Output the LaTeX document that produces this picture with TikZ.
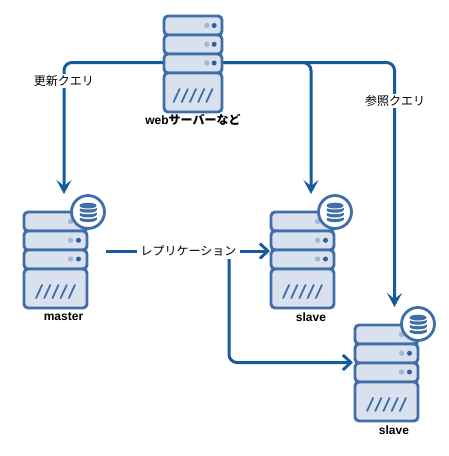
\documentclass[tikz,border=0pt]{standalone}
\usepackage{fontspec}
\setmainfont{Liberation Sans}
\newfontfamily\cjk{Noto Sans CJK JP}
\usetikzlibrary{arrows.meta,positioning}
\definecolor{srvline}{HTML}{3F6EA8}
\definecolor{srvfill}{HTML}{D9E1EF}
\definecolor{srvdotA}{HTML}{A3B7D3}
\definecolor{srvdotB}{HTML}{2F5F9E}
\definecolor{connc}{HTML}{155C9F}
\tikzset{
  x=1pt,y=-1pt,
  unit/.style={draw=srvline,fill=srvfill,line width=2.9pt,rounded corners=4pt},
  dotA/.style={fill=srvdotA},
  dotB/.style={fill=srvdotB},
  connline/.style={draw=connc,line width=3pt,rounded corners=8pt},
  downarrow/.style={-{Stealth[length=14pt,width=15pt,inset=6pt]}},
  sidearrow/.style={-{Straight Barb[length=8pt,width=15pt,line width=2.9pt]}},
  lab/.style={font=\cjk\fontsize{12}{14}\selectfont,fill=white,inner xsep=3.5pt,inner ysep=1.5pt,text=black},
  captext/.style={font=\bfseries\fontsize{12}{14}\selectfont,text=black,inner sep=0pt},
  badge/.style={circle,draw=srvline,fill=white,line width=2.8pt,minimum size=33pt,inner sep=0pt},
  box/.style={inner sep=0pt,draw=none},
}
% #1 name, #2 left, #3 top, #4 width
\newcommand{\serverpic}[4]{%
  \pgfmathsetmacro{\R}{#2+#4}%
  \pgfmathsetmacro{\DA}{\R-0.135*#4}\pgfmathsetmacro{\DB}{\R-0.26*#4}%
  \foreach \t/\b in {0/19,19/38,38/57,57/96}{%
    \draw[unit] (#2,#3+\t) rectangle (\R,#3+\b);
  }
  \foreach \t in {9.5,28.3,47}{%
    \fill[dotB] (\DA,#3+\t) circle (2.5pt);
    \fill[dotA] (\DB,#3+\t) circle (2.7pt);
  }
  \pgfmathsetmacro{\M}{#2+#4/2}%
  \foreach \k in {-2,...,2}{%
    \draw[srvline,line width=1.8pt,line cap=round] (\M+\k*8.2-3,#3+86) -- (\M+\k*8.2+3,#3+73);
  }
  \node[box,minimum width=#4 pt,minimum height=96pt,anchor=north west] (#1) at (#2,#3) {};
}
\newcommand{\diskbadge}[3]{%
  \node[badge] (#1) at (#2,#3) {};
  \foreach \o in {6.9,2.2,-2.5}{%
    \fill[srvline] (#2-8.5,#3+\o-3) rectangle (#2+8.5,#3+\o+0.6);
    \fill[srvline] (#2,#3+\o+0.6) ellipse [x radius=8.5pt,y radius=2.6pt];
    \fill[white] (#2,#3+\o-3) ellipse [x radius=10pt,y radius=3pt];
  }
  \fill[srvline] (#2,#3-6.4) ellipse [x radius=8.5pt,y radius=2.9pt];
}
\begin{document}
\begin{tikzpicture}
\useasboundingbox (0,0) rectangle (448,456);
\fill[white] (0,0) rectangle (448,456);
% junction coordinates
\coordinate (webL) at (164,62.5);
\coordinate (webR) at (222,62.5);
\coordinate (masterIn) at (64,194);
\coordinate (slaveAIn) at (311,194);
\coordinate (slaveBIn) at (394.5,307);
\coordinate (repStart) at (106,251);
\coordinate (repEnd) at (270,251);
\coordinate (branch) at (229,259);
\coordinate (slaveBLeft) at (353,362.5);
% connectors
\draw[connline,downarrow] (webL) -- (64,62.5) -- (masterIn);
\draw[connline,downarrow] (webR) -- (311,62.5) -- (slaveAIn);
\draw[connline,downarrow] (webR) -- (394.5,62.5) -- (slaveBIn);
\draw[connline,sidearrow,rounded corners=0pt] (repStart) -- (repEnd);
\draw[connline,sidearrow] (branch) -- (229,362.5) -- (slaveBLeft);
% servers
\serverpic{web}{164}{16}{58}
\serverpic{master}{24}{212}{63}
\serverpic{slaveA}{271}{212}{63}
\serverpic{slaveB}{355}{325}{63}
\diskbadge{dbM}{88}{212}
\diskbadge{dbA}{335}{212}
\diskbadge{dbB}{418}{324}
% labels
\node[lab] (l1) at (64,81) {更新クエリ};
\node[lab] (l2) at (395,101) {参照クエリ};
\node[lab] (l3) at (188.5,251) {レプリケーション};
\node[captext] (c1) at (193,120) {web{\cjk\bfseries サーバーなど}};
\node[captext] (c2) at (63.5,317) {master};
\node[captext] (c3) at (311,317) {slave};
\node[captext] (c4) at (394,430) {slave};
\end{tikzpicture}
\end{document}
